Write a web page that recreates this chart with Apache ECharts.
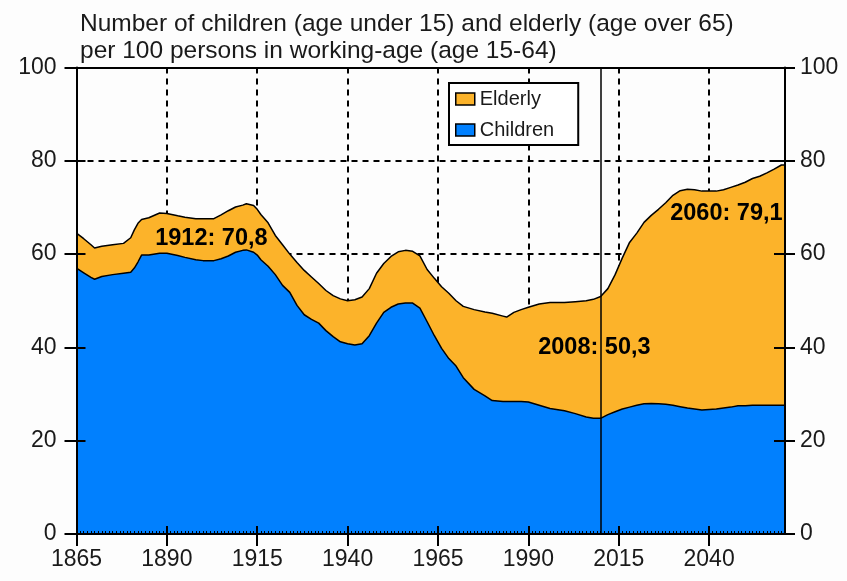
<!DOCTYPE html>
<html>
<head>
<meta charset="utf-8">
<script src="https://cdn.jsdelivr.net/npm/echarts@6/dist/echarts.min.js"></script>
<style>
  html, body { margin: 0; padding: 0; background: #fdfdfd; }
  #chart { width: 847px; height: 581px; }
</style>
</head>
<body>
<div id="chart"></div>
<script>
// Dependency ratio in Finland: children (<15) and elderly (65+) per 100 persons aged 15-64
const baseYear = 1865;
const lastYear = 2060;
const projectionStart = 2010;

const years = [1865,1867,1869,1870,1872,1875,1878,1880,1881,1882,1883,1885,1888,1890,1893,1895,1898,1900,1903,1905,1907,1909,1911,1912,1914,1915,1916,1918,1920,1922,1924,1926,1928,1930,1932,1934,1936,1938,1940,1942,1944,1946,1948,1950,1952,1954,1956,1958,1960,1962,1964,1966,1968,1970,1972,1975,1978,1980,1983,1984,1986,1988,1990,1993,1996,2000,2003,2006,2008,2010,2012,2014,2016,2018,2020,2022,2024,2026,2028,2030,2032,2034,2036,2038,2040,2042,2044,2046,2048,2050,2052,2054,2056,2058,2060];

const children = [57.0,56.0,55.0,54.6,55.2,55.6,55.9,56.1,57.0,58.3,59.8,59.8,60.2,60.2,59.7,59.3,58.8,58.6,58.6,59.0,59.6,60.4,60.8,60.9,60.4,59.8,58.8,57.4,55.6,53.3,51.8,49.0,47.0,46.0,45.2,43.6,42.3,41.2,40.8,40.5,40.8,42.5,45.2,47.5,48.6,49.3,49.5,49.5,48.4,45.5,42.5,39.8,37.6,36.0,33.5,31.0,29.6,28.6,28.4,28.4,28.4,28.4,28.3,27.6,26.9,26.4,25.8,25.1,24.8,24.8,25.6,26.2,26.8,27.2,27.6,27.9,28.0,27.9,27.8,27.6,27.3,27.0,26.8,26.6,26.7,26.8,27.0,27.2,27.5,27.5,27.6,27.6,27.6,27.6,27.6];

const elderly = [7.5,7.3,7.0,6.7,6.5,6.4,6.4,7.4,8.2,8.3,7.6,8.0,8.6,8.5,8.5,8.6,8.8,9.0,9.0,9.4,9.7,9.7,9.7,9.9,10.0,9.8,9.7,9.3,8.4,8.7,8.2,9.2,9.5,9.1,8.5,8.6,8.8,9.2,9.2,9.7,10.0,10.1,10.7,10.5,10.9,11.2,11.3,11.1,11.2,11.2,12.3,13.2,14.0,14.0,15.3,17.1,18.0,18.7,18.3,18.1,19.1,19.7,20.3,21.7,22.7,23.2,24.0,24.9,25.5,26.1,27.0,29.4,32.4,35.3,36.9,38.9,40.3,41.7,43.2,45.0,46.3,46.9,47.0,46.9,46.8,46.7,46.8,47.1,47.3,47.9,48.6,49.1,49.8,50.6,51.5];

const xTickStep = 25;
const yTickStep = 20;
const annotatedYears = [1912, 2008, 2060];

// Label placement relative to the annotated point (pixels)
const annotationOffsets = { 1912: [-35, 35], 2008: [1, 48], 2060: [-55, 49] };

const FONT = 'Liberation Sans, Arial, sans-serif';
const TEXT = '#1a1a1a';
const ORANGE = '#fcb32a';
const BLUE = '#0180fe';

// x values are years since baseYear; each year is a one-unit band,
// so the axis runs to the end of the final year's band.
const axisSpan = lastYear - baseYear + 1;
const toX = y => y - baseYear;

// The elderly band sits on top of the children band.
const stackedTop = children.map((c, i) => +(c + elderly[i]).toFixed(1));

function bandData(values) {
  const pts = years.map((y, i) => [toX(y), values[i]]);
  pts.push([axisSpan, values[values.length - 1]]);
  return pts;
}

const annotations = annotatedYears.map(y => {
  const total = stackedTop[years.indexOf(y)];
  return {
    coord: [toX(y), total],
    value: total,
    label: {
      offset: annotationOffsets[y],
      formatter: y + ': ' + total.toFixed(1).replace('.', ',')
    }
  };
});

const hidden = { show: false };
const frameLine = { show: true, onZero: false, lineStyle: { color: '#000', width: 2 } };
const noLine = { show: false, onZero: false };

const option = {
  backgroundColor: '#fdfdfd',
  animation: false,
  title: {
    text: 'Number of children (age under 15) and elderly (age over 65)\nper 100 persons in working-age (age 15-64)',
    left: 75,
    top: 6,
    textStyle: { fontFamily: FONT, fontSize: 24.5, fontWeight: 'normal', color: TEXT, lineHeight: 27 }
  },
  legend: {
    data: ['Elderly', 'Children'],
    orient: 'vertical',
    left: 449,
    top: 83,
    padding: [6, 24, 5, 6],
    itemWidth: 19,
    itemHeight: 12,
    itemGap: 11,
    itemTextGap: 4,
    icon: 'rect',
    backgroundColor: '#ffffff',
    borderColor: '#000',
    borderWidth: 2,
    itemStyle: { borderColor: '#000', borderWidth: 1.5 },
    textStyle: { fontFamily: FONT, fontSize: 20, color: TEXT }
  },
  grid: { left: 76.5, right: 62, top: 67.5, bottom: 47, containLabel: false },
  xAxis: [
    { // dashed grid lines, beneath the areas
      type: 'value', min: 0, max: axisSpan, interval: xTickStep, position: 'bottom',
      axisLine: noLine, axisTick: hidden, axisLabel: hidden,
      splitLine: { show: true, lineStyle: { color: '#000', width: 2, type: [6, 5] } }
    },
    { // axis line, outer ticks and year labels
      type: 'value', min: 0, max: axisSpan, interval: xTickStep, position: 'bottom', z: 5,
      axisLine: frameLine,
      axisTick: { show: true, length: 12, lineStyle: { color: '#000', width: 2 } },
      axisLabel: {
        show: true, margin: 14, showMaxLabel: false,
        fontFamily: FONT, fontSize: 23, color: TEXT,
        formatter: v => String(v + baseYear)
      },
      splitLine: hidden
    },
    { // inner part of major ticks plus yearly minor ticks
      type: 'value', min: 0, max: axisSpan, interval: xTickStep, position: 'bottom', z: 5,
      axisLine: noLine, axisLabel: hidden, splitLine: hidden,
      axisTick: { show: true, inside: true, length: 8, lineStyle: { color: '#000', width: 2 } },
      minorTick: { show: true, splitNumber: xTickStep, length: 3, lineStyle: { color: '#000', width: 1 } }
    },
    { // top frame
      type: 'value', min: 0, max: axisSpan, position: 'top', z: 5,
      axisLine: frameLine,
      axisTick: hidden, axisLabel: hidden, splitLine: hidden
    }
  ],
  yAxis: [
    { // dashed grid lines
      type: 'value', min: 0, max: 100, interval: yTickStep, position: 'left',
      axisLine: noLine, axisTick: hidden, axisLabel: hidden,
      splitLine: { show: true, lineStyle: { color: '#000', width: 2, type: [6, 5] } }
    },
    {
      type: 'value', min: 0, max: 100, interval: yTickStep, position: 'left', z: 5,
      axisLine: frameLine,
      axisTick: { show: true, length: 12, lineStyle: { color: '#000', width: 2 } },
      axisLabel: { show: true, margin: 20, fontFamily: FONT, fontSize: 23, color: TEXT },
      splitLine: hidden
    },
    {
      type: 'value', min: 0, max: 100, interval: yTickStep, position: 'left', z: 5,
      axisLine: noLine, axisLabel: hidden, splitLine: hidden,
      axisTick: { show: true, inside: true, length: 9, lineStyle: { color: '#000', width: 2 } }
    },
    {
      type: 'value', min: 0, max: 100, interval: yTickStep, position: 'right', z: 5,
      axisLine: frameLine,
      axisTick: { show: true, length: 10, lineStyle: { color: '#000', width: 2 } },
      axisLabel: { show: true, margin: 15, fontFamily: FONT, fontSize: 23, color: TEXT },
      splitLine: hidden
    },
    {
      type: 'value', min: 0, max: 100, interval: yTickStep, position: 'right', z: 5,
      axisLine: noLine, axisLabel: hidden, splitLine: hidden,
      axisTick: { show: true, inside: true, length: 11, lineStyle: { color: '#000', width: 2 } }
    }
  ],
  series: [
    {
      name: 'Elderly',
      type: 'line',
      xAxisIndex: 0, yAxisIndex: 0,
      data: bandData(stackedTop),
      showSymbol: false, symbol: 'none',
      color: ORANGE,
      lineStyle: { color: '#000', width: 1.5 },
      areaStyle: { color: ORANGE, opacity: 1 },
      z: 2,
      markPoint: {
        silent: true,
        symbol: 'circle',
        symbolSize: 1,
        itemStyle: { color: 'rgba(0,0,0,0)' },
        z: 6,
        label: {
          show: true, position: 'inside',
          fontFamily: FONT, fontSize: 23.5, fontWeight: 'bold', color: '#000'
        },
        data: annotations
      }
    },
    {
      name: 'Children',
      type: 'line',
      xAxisIndex: 0, yAxisIndex: 0,
      data: bandData(children),
      showSymbol: false, symbol: 'none',
      color: BLUE,
      lineStyle: { color: '#000', width: 1.5 },
      areaStyle: { color: BLUE, opacity: 1 },
      z: 3,
      markLine: {
        silent: true,
        symbol: 'none',
        label: { show: false },
        lineStyle: { color: '#000', width: 1.5, type: 'solid' },
        data: [[{ coord: [toX(projectionStart), 0] }, { coord: [toX(projectionStart), 100] }]]
      }
    }
  ]
};

const chart = echarts.init(document.getElementById('chart'), null, { renderer: 'canvas' });
chart.setOption(option);
</script>
</body>
</html>
